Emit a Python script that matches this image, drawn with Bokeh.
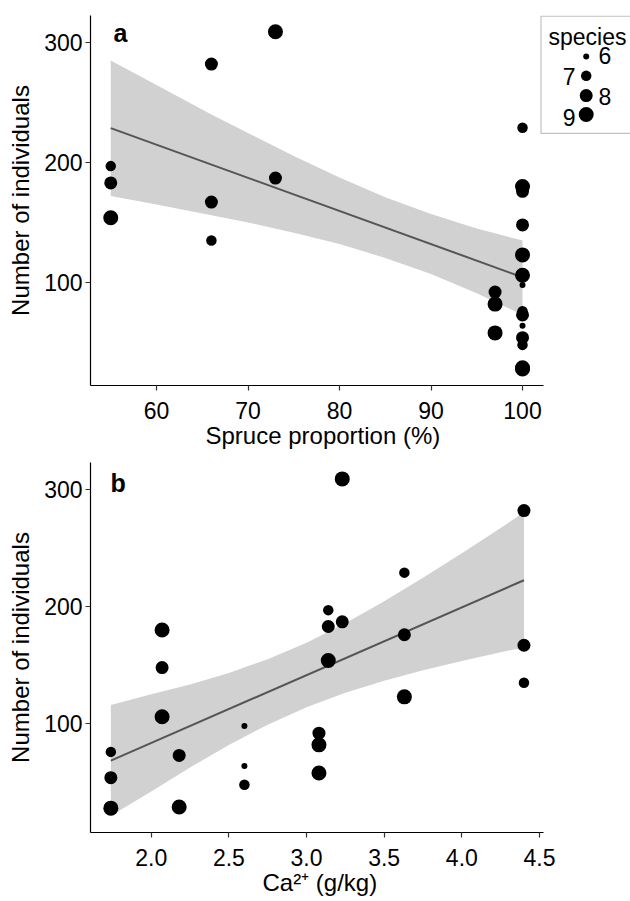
from bokeh.plotting import figure
from bokeh.models import FixedTicker, Range1d, Label, BoxAnnotation, NumeralTickFormatter, Title
from bokeh.layouts import column
from bokeh.embed import file_html
from bokeh.resources import INLINE

# ---- data (one entry per site) ----
spruce = [100, 100, 100, 100, 100, 100, 100, 100, 100, 100, 100, 97, 97, 97,
          55, 55, 55, 73, 73, 100, 100, 100, 66, 66, 66]
ca = [1.74, 1.74, 1.74, 2.07, 2.07, 2.07, 2.18, 2.18, 2.60, 2.60, 2.60, 3.08, 3.08, 3.08,
      3.14, 3.14, 3.14, 3.23, 3.23, 3.63, 3.63, 3.63, 4.40, 4.40, 4.40]
individuals = [76, 54, 28, 180, 148, 106, 73, 29, 98, 64, 48, 92, 82, 58,
               197, 183, 154, 309, 187, 229, 176, 123, 282, 167, 135]
species = [7, 8, 9, 9, 8, 9, 8, 9, 6, 6, 7, 8, 9, 9,
           7, 8, 9, 9, 8, 7, 8, 9, 8, 8, 7]

legend_species = [6, 7, 8, 9]

# fitted line and 95% band
fit_a_x = [55, 100]
fit_a_y = [228.6, 104.4]
band_a_x = [55, 60, 66, 70, 75, 80, 85, 90, 95, 100]
band_a_lower = [172, 165, 156, 150, 141.5, 132, 120.5, 107, 91, 73]
band_a_upper = [285, 264.5, 240, 224.5, 205.5, 187.5, 171, 157, 145, 135]

fit_b_x = [1.74, 4.40]
fit_b_y = [68.6, 222.5]
band_b_x = [1.74, 2.0, 2.25, 2.5, 2.75, 3.0, 3.25, 3.5, 3.75, 4.0, 4.25, 4.4]
band_b_lower = [21.5, 42.3, 62.7, 81.9, 99.2, 114.0, 126.4, 136.7, 145.6, 153.6, 161.0, 165.2]
band_b_upper = [116, 125.1, 133.6, 143.4, 155.1, 169.2, 185.8, 204.5, 224.6, 245.6, 267.2, 280.5]

x_ticks_a = [60, 70, 80, 90, 100]
x_ticks_b = [2.0, 2.5, 3.0, 3.5, 4.0, 4.5]
y_ticks = [100, 200, 300]

FONT = "Liberation Sans"
SIZE = {6: 6, 7: 10.5, 8: 13, 9: 15}
BAND = "#D1D1D1"
LINE = "#555555"


def style(p):
    p.outline_line_color = None
    p.grid.visible = False
    p.background_fill_color = "white"
    p.border_fill_color = "white"
    for ax in p.axis:
        ax.axis_line_color = "black"
        ax.axis_line_width = 1.2
        ax.major_tick_line_color = "#333333"
        ax.major_tick_line_width = 1.2
        ax.major_tick_out = 5
        ax.major_tick_in = 0
        ax.minor_tick_line_color = None
        ax.major_label_text_font = FONT
        ax.major_label_text_font_size = "23px"
        ax.major_label_text_color = "black"
        ax.axis_label_text_font = FONT
        ax.axis_label_text_font_size = "24px"
        ax.axis_label_text_font_style = "normal"
        ax.axis_label_text_color = "black"
    p.yaxis.major_label_standoff = 3
    p.yaxis.axis_label_standoff = 7
    p.xaxis.major_label_standoff = 11
    p.yaxis.ticker = FixedTicker(ticks=y_ticks)
    p.yaxis.axis_label = "Number of individuals"


def xtitle(p, text, offset):
    p.add_layout(Title(text=text, align="left", offset=offset, vertical_align="top", standoff=0,
                       text_font=FONT, text_font_size="24px", text_font_style="normal",
                       text_color="black"), "below")


sizes = [SIZE[s] for s in species]

# ---- panel a ----
pa = figure(width=630, height=455, output_backend="svg", toolbar_location=None,
            x_range=Range1d(52.787, 111.8), y_range=Range1d(14.17, 322.5),
            min_border_left=90, min_border_right=0, min_border_top=15, min_border_bottom=70)
style(pa)
pa.xaxis.ticker = FixedTicker(ticks=x_ticks_a)
pa.xaxis.bounds = (52.787, 102.295)
xtitle(pa, "Spruce proportion (%)", 115)

pa.varea(x=band_a_x, y1=band_a_lower, y2=band_a_upper, fill_color=BAND)
pa.line(x=fit_a_x, y=fit_a_y, line_color=LINE, line_width=2)
pa.scatter(x=spruce, y=individuals, size=sizes, fill_color="black", line_color=None)

pa.add_layout(Label(x=55.3, y=308.3, text="a", text_font=FONT, text_font_size="25px",
                    text_font_style="bold", text_color="black", text_baseline="alphabetic"))

# legend (species)
pa.add_layout(BoxAnnotation(left=102.02, right=125, top=321.9, bottom=224.2,
                            fill_color=None, line_color="#333333", line_width=1.2))
pa.add_layout(Label(x=102.84, y=305.0, text="species", text_font=FONT, text_font_size="23px",
                    text_color="black", text_baseline="alphabetic"))
leg_y = [288.3, 272.2, 255.8, 240.0]
pa.scatter(x=[106.96] * 4, y=leg_y, size=[SIZE[s] for s in legend_species],
           fill_color="black", line_color=None)
lab_pos = [(108.3, 289.2, "left"), (105.8, 271.7, "right"), (108.3, 255.0, "left"), (105.8, 237.5, "right")]
for s, (lx, ly, al) in zip(legend_species, lab_pos):
    pa.add_layout(Label(x=lx, y=ly, text=str(s), text_font=FONT, text_font_size="23px",
                        text_align=al, text_baseline="middle", text_color="black"))

# ---- panel b ----
pb = figure(width=630, height=445, output_backend="svg", toolbar_location=None,
            x_range=Range1d(1.609, 5.086), y_range=Range1d(7.2, 323.0),
            min_border_left=90, min_border_right=0, min_border_top=7, min_border_bottom=68)
style(pb)
pb.xaxis.ticker = FixedTicker(ticks=x_ticks_b)
pb.xaxis.formatter = NumeralTickFormatter(format="0.0")
pb.xaxis.bounds = (1.609, 4.526)
xtitle(pb, "Ca²⁺ (g/kg)", 172)

pb.varea(x=band_b_x, y1=band_b_lower, y2=band_b_upper, fill_color=BAND)
pb.line(x=fit_b_x, y=fit_b_y, line_color=LINE, line_width=2)
pb.scatter(x=ca, y=individuals, size=sizes, fill_color="black", line_color=None)

pb.add_layout(Label(x=1.738, y=305.1, text="b", text_font=FONT, text_font_size="25px",
                    text_font_style="bold", text_color="black", text_baseline="alphabetic"))

layout = column(pa, pb)
open("out.html", "w").write(file_html(layout, INLINE))
